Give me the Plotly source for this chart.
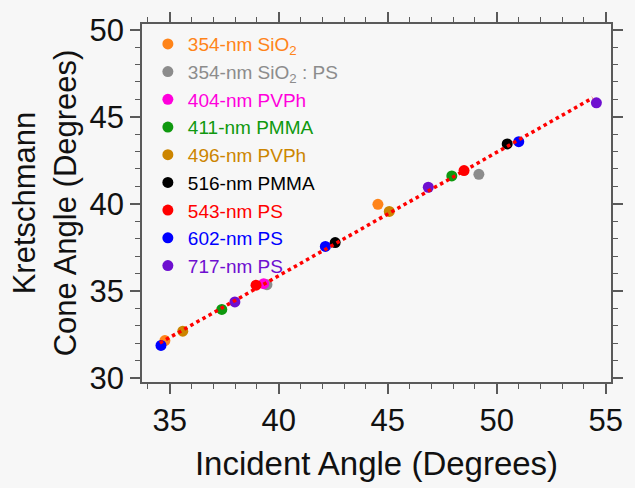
import plotly.graph_objects as go

# ---- data ----
series_names = [
    "354-nm SiO<sub>2</sub>",
    "354-nm SiO<sub>2</sub> : PS",
    "404-nm PVPh",
    "411-nm PMMA",
    "496-nm PVPh",
    "516-nm PMMA",
    "543-nm PS",
    "602-nm PS",
    "717-nm PS",
]
series_colors = ["#ff8419", "#8c8c8c", "#ff00dc", "#0f990f", "#cc8500",
                 "#000000", "#ff0000", "#0000ff", "#6e0fd0"]

x_354_sio2 = [34.78, 44.55]
y_354_sio2 = [32.14, 39.97]
x_354_sio2_ps = [39.46, 49.18]
y_354_sio2_ps = [35.35, 41.69]
err_354_sio2_ps = [0.1, 0.2]
x_404_pvph = [39.31]
y_404_pvph = [35.41]
x_411_pmma = [37.39, 47.94]
y_411_pmma = [33.93, 41.60]
x_496_pvph = [35.60, 45.07]
y_496_pvph = [32.68, 39.56]
x_516_pmma = [42.59, 50.48]
y_516_pmma = [37.77, 43.44]
x_543_ps = [38.96, 48.50]
y_543_ps = [35.32, 41.91]
x_602_ps = [34.60, 42.14, 51.01]
y_602_ps = [31.86, 37.55, 43.57]
x_717_ps = [37.99, 46.86, 54.57]
y_717_ps = [34.36, 40.95, 45.80]

fit_x = [34.55, 54.40]
fit_y = [32.00, 46.08]

x_ticks = [35, 40, 45, 50, 55]
y_ticks = [30, 35, 40, 45, 50]

xs = [x_354_sio2, x_354_sio2_ps, x_404_pvph, x_411_pmma, x_496_pvph,
      x_516_pmma, x_543_ps, x_602_ps, x_717_ps]
ys = [y_354_sio2, y_354_sio2_ps, y_404_pvph, y_411_pmma, y_496_pvph,
      y_516_pmma, y_543_ps, y_602_ps, y_717_ps]

FONT = "Liberation Sans, Arial, sans-serif"
BG = "#f7f7f7"
AX = "#5a5a5a"

fig = go.Figure()
for i, (name, col, xv, yv) in enumerate(zip(series_names, series_colors, xs, ys)):
    kw = {}
    if i == 1:
        kw["error_x"] = dict(type="data", array=err_354_sio2_ps, color=col, thickness=1.5, width=0)
        kw["error_y"] = dict(type="data", array=err_354_sio2_ps, color=col, thickness=1.5, width=0)
    fig.add_trace(go.Scatter(
        x=xv, y=yv, mode="markers",
        name=f'<span style="color:{col}">{name}</span>',
        marker=dict(color=col, size=11, line=dict(width=0)),
        **kw,
    ))

fig.add_trace(go.Scatter(
    x=fit_x, y=fit_y, mode="lines", showlegend=False,
    line=dict(color="#ff0000", width=3.5, dash="dot"),
))

axis_common = dict(
    showline=True, linecolor=AX, linewidth=1.5, mirror="allticks",
    ticks="outside", ticklen=10, tickwidth=1.5, tickcolor=AX,
    showgrid=False, zeroline=False,
    tickfont=dict(family=FONT, size=31, color="#111111"),
    minor=dict(ticks="outside", ticklen=5, tickwidth=1.3, tickcolor=AX, dtick=1, showgrid=False),
)

fig.update_layout(
    width=635, height=488,
    margin=dict(l=142, r=14, t=22, b=95),
    paper_bgcolor=BG, plot_bgcolor=BG,
    font=dict(family=FONT, color="#111111"),
    xaxis=dict(range=[33.73, 55.24], tickvals=x_ticks,
               title=dict(text="Incident Angle (Degrees)", font=dict(family=FONT, size=33), standoff=15),
               **axis_common),
    yaxis=dict(range=[29.76, 50.33], tickvals=y_ticks,
               title=dict(text="Kretschmann<br>Cone Angle (Degrees)", font=dict(family=FONT, size=31), standoff=4),
               **axis_common),
    legend=dict(x=0.0125, y=0.997, xanchor="left", yanchor="top",
                bgcolor="rgba(0,0,0,0)", borderwidth=0,
                font=dict(family=FONT, size=19)),
    showlegend=True,
)

fig.write_html(
    "out.html",
    config={"displayModeBar": False},
    post_script="document.body.style.margin='0';document.body.style.background='%s';" % BG,
)
